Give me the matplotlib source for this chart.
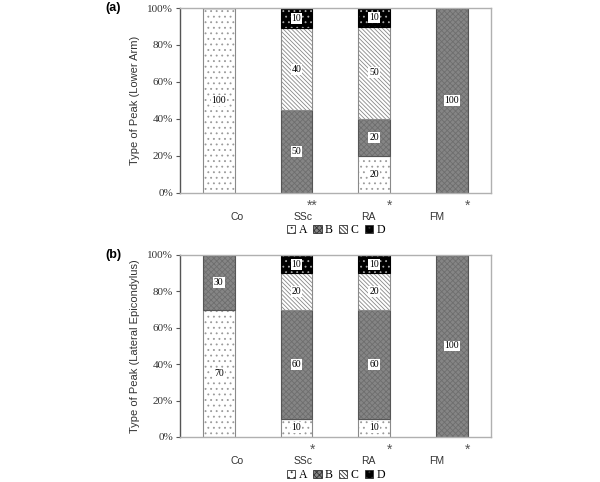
import numpy as np
import matplotlib.pyplot as plt
from matplotlib.patches import Patch
from matplotlib.transforms import blended_transform_factory

cats = ["Co", "SSc", "RA", "FM"]
types = ["A", "B", "C", "D"]

# percent of each peak type (bar heights), panel (a) lower arm
arm_vals = {
    "A": [100, 0, 20, 0],
    "B": [0, 45, 20, 100],
    "C": [0, 44, 50, 0],
    "D": [0, 11, 10, 0],
}
# numbers printed in the boxes
arm_text = {
    "A": ["100", "", "20", ""],
    "B": ["", "50", "20", "100"],
    "C": ["", "40", "50", ""],
    "D": ["", "10", "10", ""],
}
# panel (b) lateral epicondylus
epi_vals = {
    "A": [70, 10, 10, 0],
    "B": [30, 60, 60, 100],
    "C": [0, 20, 20, 0],
    "D": [0, 10, 10, 0],
}
epi_text = {
    "A": ["70", "10", "10", ""],
    "B": ["30", "60", "60", "100"],
    "C": ["", "20", "20", ""],
    "D": ["", "10", "10", ""],
}
arm_stars = ["", "**", "*", "*"]
epi_stars = ["", "*", "*", "*"]
label_shift = [0.23, 0.08, -0.08, -0.2]

# fill, hatch, hatch colour, outline colour
style = {
    "A": ("white", "...", "#9a9a9a", "#8a8a8a"),
    "B": ("#858585", "xxxxxx", "#6e6e6e", "#555555"),
    "C": ("white", "\\\\\\\\\\\\\\\\", "#888888", "#8a8a8a"),
    "D": ("black", "...", "#aaaaaa", "black"),
}

serif = "Liberation Serif"
sans = "Liberation Sans"
plt.rcParams['hatch.linewidth'] = 0.6

fig = plt.figure(figsize=(6.0, 4.82), dpi=100)
ax_a = fig.add_axes([0.30, 0.5996, 0.518, 0.3838])
ax_b = fig.add_axes([0.30, 0.0934, 0.518, 0.3776])


def draw(ax, vals, texts, stars, ylabel, tag):
    x = np.arange(len(cats))
    bottom = np.zeros(len(cats))
    w = 0.41
    for t in types:
        v = np.array(vals[t], dtype=float)
        fc, hatch, hc, ec = style[t]
        ax.bar(x, v, w, bottom=bottom, color=fc, hatch=hatch,
               edgecolor=hc, linewidth=0)
        ax.bar(x, v, w, bottom=bottom, fill=False, edgecolor=ec,
               linewidth=0.8)
        for i in range(len(cats)):
            if v[i] > 0 and texts[t][i]:
                ax.text(x[i], bottom[i] + v[i] / 2, texts[t][i],
                        ha="center", va="center", fontsize=7,
                        family=serif, color="black",
                        bbox=dict(boxstyle="square,pad=0.1", fc="white",
                                  ec="none"))
        bottom += v

    ax.set_xlim(-0.5, 3.5)
    ax.set_ylim(0, 100)
    ax.set_xticks([])
    ax.set_yticks(range(0, 101, 20))
    ax.set_yticklabels([f"{v}%" for v in range(0, 101, 20)],
                       family=serif, fontsize=8, color="#333333")
    ax.tick_params(axis="y", length=3, width=0.8, color="#555555", pad=2)
    for s in ["top", "right", "bottom"]:
        ax.spines[s].set_color("#b0b0b0")
        ax.spines[s].set_linewidth(1.0)
    ax.spines["left"].set_color("#555555")
    ax.spines["left"].set_linewidth(1.0)
    ax.set_ylabel(ylabel, family=sans, fontsize=8, color="#333333")
    ax.yaxis.set_label_coords(-40 / 311, 0.5)

    tr = blended_transform_factory(ax.transData, ax.transAxes)
    for i, c in enumerate(cats):
        ax.annotate(c, (x[i] + label_shift[i], 0), xycoords=tr,
                    xytext=(0, -24), textcoords="offset pixels",
                    ha="center", va="center", family=sans, fontsize=7.5,
                    color="#333333", annotation_clip=False)
        if stars[i]:
            ax.annotate(stars[i], (x[i] + 0.2, 0), xycoords=tr,
                        xytext=(0, -13), textcoords="offset pixels",
                        ha="center", va="center", family=sans, fontsize=10,
                        color="#555555", annotation_clip=False)
    ax.text(-67 / 311, 1.0, tag, transform=ax.transAxes, ha="center",
            va="center", family=sans, fontsize=9, fontweight="bold")

    handles = [Patch(facecolor=style[t][0], hatch=style[t][1],
                     edgecolor="#333333", linewidth=0.6) for t in types]
    return handles


h = draw(ax_a, arm_vals, arm_text, arm_stars, "Type of Peak (Lower Arm)", "(a)")
draw(ax_b, epi_vals, epi_text, epi_stars,
     "Type of Peak (Lateral Epicondylus)", "(b)")

for yc in [1 - 230 / 482, 1 - 475 / 482]:
    fig.legend(h, types, loc="center", bbox_to_anchor=(0.56, yc), ncol=4,
               frameon=False, handlelength=0.7, handleheight=0.7,
               handletextpad=0.3, columnspacing=0.5,
               prop={"family": serif, "size": 8.5})

fig.savefig("out.png", dpi=100)
